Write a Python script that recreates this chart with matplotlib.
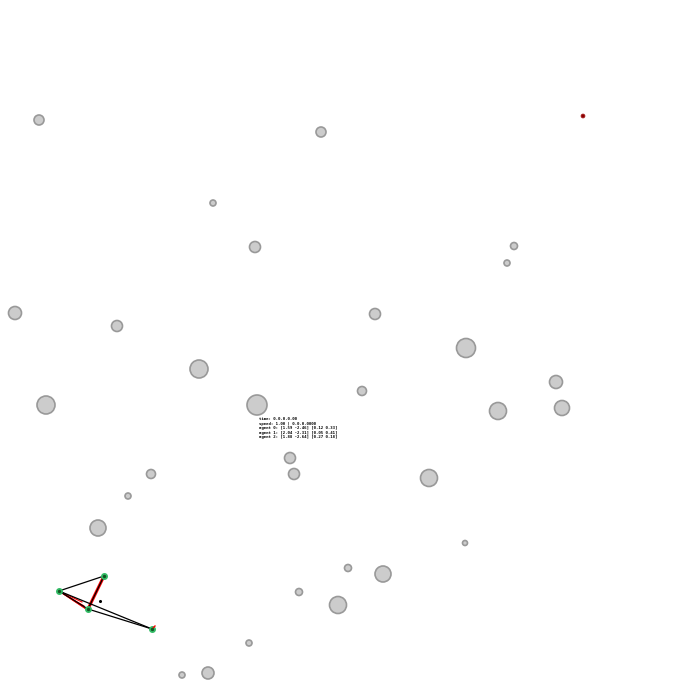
import numpy as np
import matplotlib
matplotlib.use("Agg")
import matplotlib.pyplot as plt
from matplotlib.patches import Circle

# obstacles (pixel coords of the 700x700 render, radius in px)
obs_x = [39, 321, 213, 255, 514, 507, 15, 117, 375, 466, 199, 556, 46, 257, 362, 498,
         562, 290, 294, 429, 151, 128, 98, 465, 348, 383, 299, 338, 249, 182, 208]
obs_y = [120, 132, 203, 247, 246, 263, 313, 326, 314, 348, 369, 382, 405, 405, 391, 411,
         408, 458, 474, 478, 474, 496, 528, 543, 568, 574, 592, 605, 643, 675, 673]
obs_r = [5, 5, 3, 5.5, 3.5, 3, 6.5, 5.5, 5.5, 9.5, 9, 6.5, 9, 10, 4.5, 8.5,
         7.5, 5.5, 5.5, 8.5, 4.5, 3, 8, 2.5, 3.5, 8, 3.5, 8.5, 3, 3, 6]

# goal
goal_x, goal_y = 583, 116

# agents
node_x = [59, 104, 88, 152]
node_y = [591, 576, 609, 629]
black_edges = [(0, 1), (0, 3), (2, 3), (1, 2), (0, 2)]
red_edges = [(1, 2)]
# red fan from agent 0 towards agent 2
fan_x = [82, 84, 86, 88]
fan_y = [602, 606, 609, 610]
center_x, center_y = 100, 601

info_lines = [
    "time: 0.0.0.0.00",
    "speed: 1.00 | 0.0.0.0000",
    "agent 0: [1.59 -2.46] [0.12 0.33]",
    "agent 1: [2.04 -2.31] [0.05 0.41]",
    "agent 2: [1.88 -2.64] [0.27 0.18]",
]

fig = plt.figure(figsize=(7, 7), dpi=100)
ax = fig.add_axes([0, 0, 1, 1])
ax.set_xlim(0, 700)
ax.set_ylim(700, 0)
ax.set_aspect("equal")
ax.axis("off")

for x, y, r in zip(obs_x, obs_y, obs_r):
    ax.add_patch(Circle((x, y), r, facecolor="#cccccc", edgecolor="#999999", lw=1.2))

ax.add_patch(Circle((goal_x, goal_y), 2, facecolor="#8b0000", edgecolor="#b03030", lw=0.5))

for i, j in red_edges:
    ax.plot([node_x[i], node_x[j]], [node_y[i], node_y[j]], color="red", lw=2.2, zorder=2)
for fx, fy in zip(fan_x, fan_y):
    ax.plot([node_x[0], fx], [node_y[0], fy], color="red", lw=0.8, zorder=2)
for i, j in black_edges:
    ax.plot([node_x[i], node_x[j]], [node_y[i], node_y[j]], color="black", lw=0.9, zorder=3)

ax.scatter(node_x, node_y, s=16, color="#33bb66", zorder=4)
ax.scatter(node_x, node_y, s=2, color="#115522", zorder=5)
ax.scatter([center_x], [center_y], s=1.5, color="black", zorder=5)
ax.plot([152, 155], [629, 626], color="red", lw=1, zorder=4)

for k, line in enumerate(info_lines):
    ax.text(259, 419 + k * 4.6, line, fontsize=2.9, color="black",
            va="center", ha="left", family="DejaVu Sans Mono", fontweight="bold")

fig.savefig("out.png", dpi=100, facecolor="white")
